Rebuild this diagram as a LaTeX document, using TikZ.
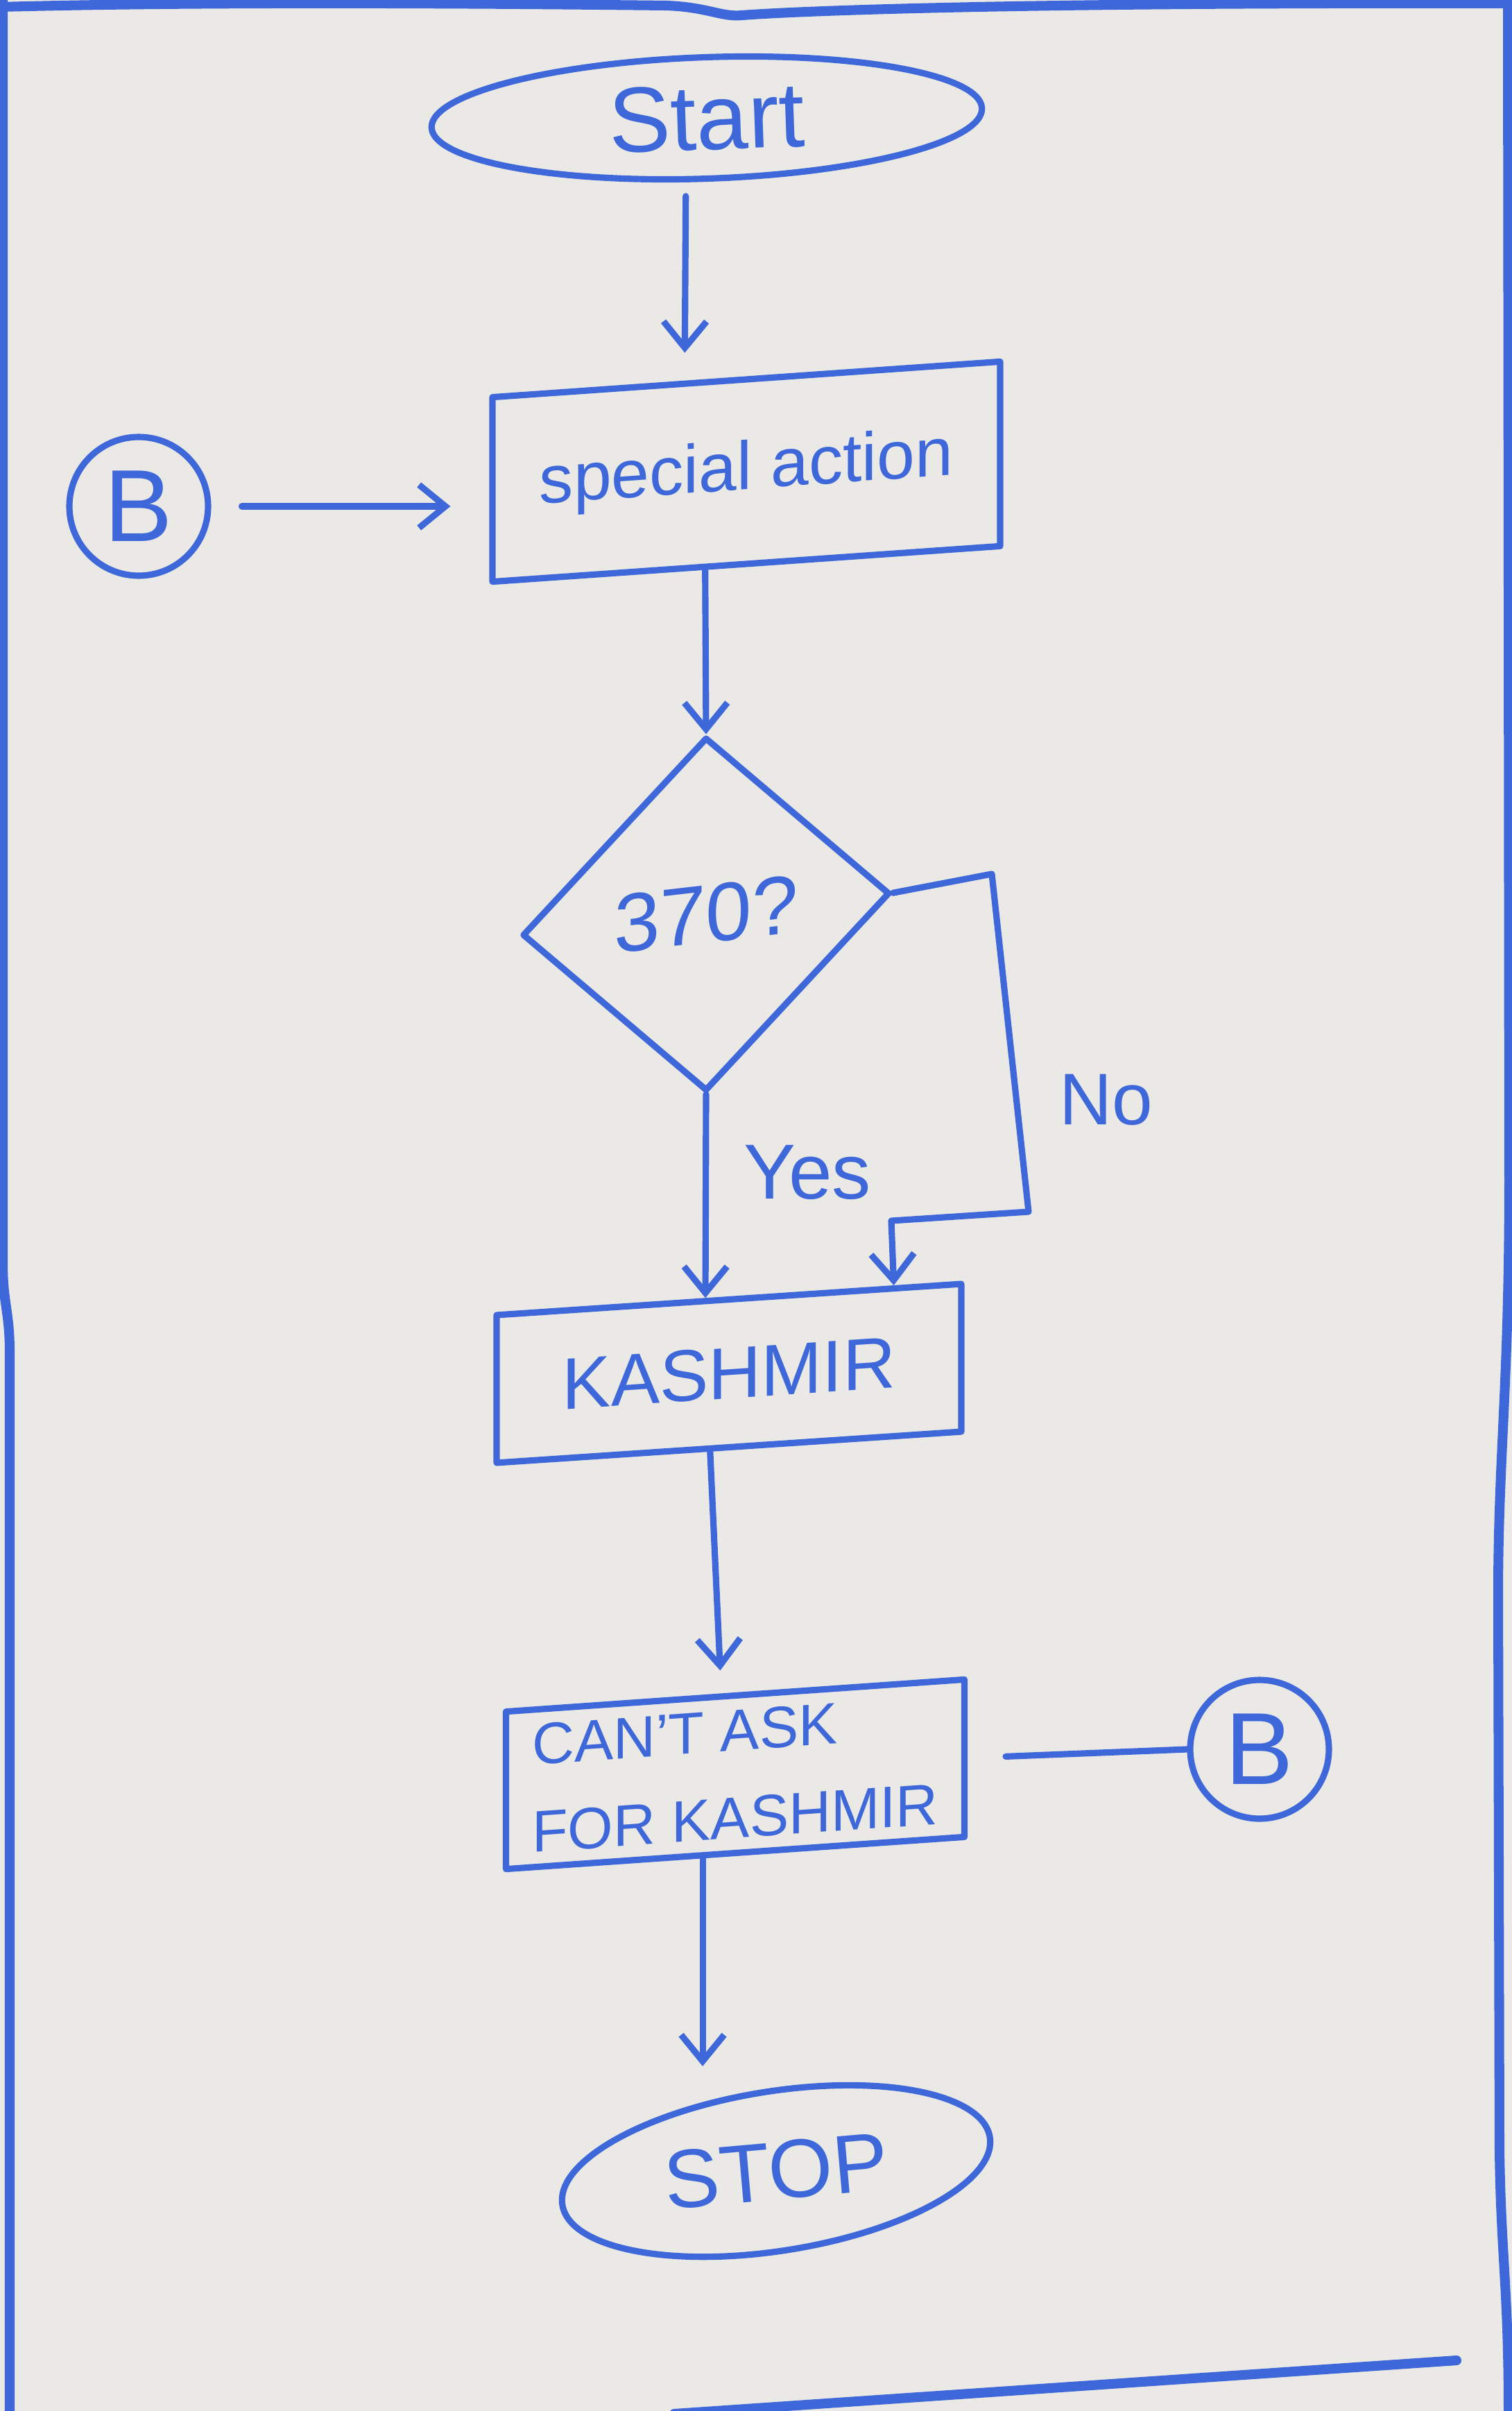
\documentclass[tikz,border=0pt]{standalone}
\usepackage{fontspec}
\usepackage{graphicx}
\setmainfont{Liberation Sans}
\usetikzlibrary{shapes.geometric,arrows.meta,calc}
\definecolor{ink}{RGB}{62,104,218}
\definecolor{paper}{RGB}{234,233,230}
\begin{document}
\begin{tikzpicture}[
  pen/.style={draw=ink, line width=2.6pt, line cap=round, line join=round},
  arr/.style={pen, -{Straight Barb[length=0.38cm,width=0.62cm,line width=2.6pt]}},
  term/.style={pen, ellipse, inner sep=0pt, text=ink},
  proc/.style={pen, rectangle, inner sep=0pt, text=ink},
  conn/.style={pen, circle, minimum size=2.0cm, inner sep=0pt, text=ink},
  decision/.style={pen, diamond, inner sep=0pt, text=ink},
  lbl/.style={text=ink, inner sep=0pt},
  pageframe/.style={draw=ink, line width=4pt, line cap=round, line join=round},
]
\useasboundingbox (0,0) rectangle (21.8,-34.76);
\fill[paper] (0,0) rectangle (21.8,-34.76);

% page frame
\draw[pageframe] (0,-0.10) .. controls (3,-0.02) and (7,-0.05) .. (9.6,-0.08)
  .. controls (10.2,-0.10) and (10.4,-0.25) .. (10.7,-0.22)
  .. controls (11.2,-0.18) and (14,-0.03) .. (21.8,-0.05);
\draw[pageframe] (0.04,0) -- (0.04,-18.2) .. controls (0.04,-18.8) and (0.14,-18.9) .. (0.14,-19.5) -- (0.14,-34.76);
\draw[pageframe] (21.74,0) -- (21.76,-17) .. controls (21.76,-20) and (21.6,-21) .. (21.6,-23)
  -- (21.62,-31) .. controls (21.64,-32.5) and (21.75,-33) .. (21.75,-34.76);
\draw[pageframe] (9.72,-34.8) -- (21.0,-34.03);

% nodes
\node[term, minimum width=7.94cm, minimum height=1.75cm, rotate=2,
      font=\fontsize{38}{42}\selectfont] (start) at (10.19,-1.70) {Start\hspace{0.8cm}};
\node[proc, minimum width=7.32cm, minimum height=2.66cm, yslant=0.07,
      font=\fontsize{28}{32}\selectfont] (sa) at (10.76,-6.80) {special action};
\node[conn, font=\fontsize{42}{46}\selectfont] (b1) at (2.0,-7.30) {B};
\node[decision, minimum width=5.3cm, minimum height=5.1cm, yslant=0.114,
      font=\fontsize{34}{38}\selectfont] (q) at (10.18,-13.18) {370?\hspace{0.4cm}};
\node[proc, minimum width=6.7cm, minimum height=2.13cm, yslant=0.067,
      font=\fontsize{30}{34}\selectfont] (kash) at (10.51,-19.80) {KASHMIR};
\node[proc, minimum width=6.61cm, minimum height=2.27cm, yslant=0.07, align=left,
      font=\fontsize{24}{36}\selectfont] (cant) at (10.60,-25.58) {CAN'T ASK\\FOR KASHMIR};
\node[conn, font=\fontsize{42}{46}\selectfont] (b2) at (18.16,-25.22) {B};
\node[term, minimum width=6.24cm, minimum height=2.30cm, rotate=9,
      font=\fontsize{34}{38}\selectfont] (stop) at (11.19,-31.30) {\rotatebox{-4}{STOP}};

\node[lbl, font=\fontsize{32}{36}\selectfont] (yes) at (11.64,-16.90) {Yes};
\node[lbl, font=\fontsize{30}{34}\selectfont] (no) at (15.95,-15.86) {No};

% connectors
\draw[arr, shorten <=0.2cm, shorten >=0.4cm] (start.250) -- ($(sa.north west)!0.38!(sa.north east)$);
\draw[arr, shorten <=0.44cm, shorten >=0.56cm] (b1.east) -- (b1.east -| sa.west);
\draw[arr] ($(sa.south west)!0.42!(sa.south east)$) -- (q.north);
\draw[arr] (q.south) -- ($(kash.north west)!0.45!(kash.north east)$);
\coordinate (n1) at (14.3,-12.6);
\coordinate (n2) at (14.83,-17.47);
\coordinate (n3) at (12.85,-17.6);
\draw[arr] (q.east) -- (n1) -- (n2) -- (n3) -- ($(kash.north west)!0.85!(kash.north east)$);
\draw[arr, shorten >=0.33cm] ($(kash.south west)!0.46!(kash.south east)$) -- ($(cant.north west)!0.47!(cant.north east)$);
\draw[pen, shorten <=0.55cm] (cant.east) -- (b2.west);
\coordinate (c1) at ($(cant.south west)!0.43!(cant.south east)$);
\draw[arr, shorten >=0.33cm] (c1) -- (c1 |- stop.north);
\end{tikzpicture}
\end{document}
